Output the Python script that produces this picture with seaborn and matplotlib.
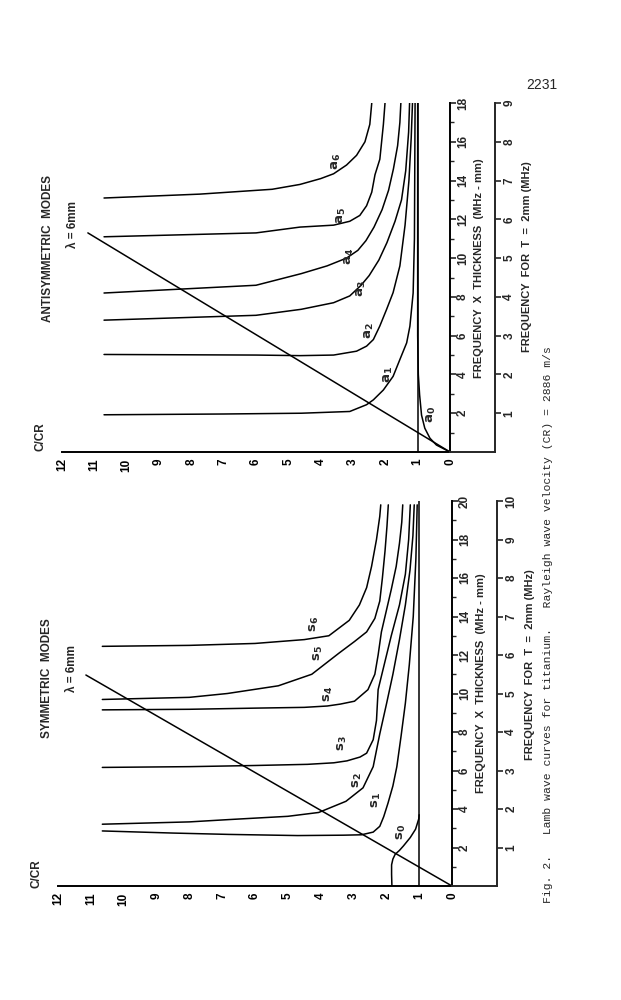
import matplotlib
matplotlib.use("Agg")
import matplotlib.pyplot as plt
import seaborn as sns
import pandas as pd

# ---- data read off the (rotated) figure: C/CR vs frequency x thickness ----
# symmetric modes
s0_c = [1.83, 1.84, 1.84, 1.80, 1.73, 1.60, 1.48, 1.27, 1.11, 1.01, 1.00]
s0_fd = [0.0, 0.6, 1.1, 1.4, 1.65, 1.85, 2.08, 2.52, 2.95, 3.5, 3.7]
s1_c = [10.65, 8.5, 6.8, 4.7, 3.3, 2.76, 2.4, 2.2, 2.08, 1.95, 1.8, 1.68, 1.55, 1.42, 1.3, 1.18, 1.1, 1.06]
s1_fd = [2.86, 2.75, 2.68, 2.62, 2.64, 2.66, 2.8, 3.1, 3.6, 4.3, 5.2, 6.2, 7.8, 9.5, 11.5, 14.0, 17.0, 19.8]
s2_c = [10.65, 8.0, 6.8, 5.0, 4.06, 3.23, 2.71, 2.4, 2.2, 1.99, 1.8, 1.6, 1.42, 1.28, 1.19, 1.15]
s2_fd = [3.21, 3.33, 3.45, 3.62, 3.82, 4.4, 5.1, 6.2, 7.9, 9.5, 11.0, 12.8, 14.6, 16.4, 18.2, 19.8]
s3_c = [10.65, 8.0, 6.0, 4.4, 3.6, 3.2, 2.8, 2.6, 2.4, 2.3, 2.25, 2.05, 1.85, 1.6, 1.42, 1.32, 1.27]
s3_fd = [6.16, 6.2, 6.26, 6.32, 6.4, 6.5, 6.7, 6.9, 7.6, 8.6, 10.2, 11.6, 13.0, 14.6, 16.2, 18.0, 19.8]
s4_c = [10.65, 8.0, 6.0, 4.5, 3.8, 3.4, 2.97, 2.56, 2.35, 2.25, 2.15, 2.0, 1.85, 1.7, 1.6, 1.53, 1.5]
s4_fd = [9.15, 9.18, 9.24, 9.28, 9.35, 9.45, 9.6, 10.2, 11.0, 12.0, 13.2, 14.3, 15.4, 16.6, 17.8, 18.9, 19.8]
s5_c = [10.65, 8.0, 6.84, 5.29, 4.27, 3.44, 2.97, 2.6, 2.35, 2.2, 2.12, 2.04, 1.98, 1.94]
s5_fd = [9.69, 9.8, 10.0, 10.4, 11.0, 12.1, 12.7, 13.2, 13.9, 14.8, 16.0, 17.4, 18.7, 19.8]
s6_c = [10.65, 8.0, 6.0, 4.5, 3.75, 3.13, 2.82, 2.6, 2.45, 2.3, 2.2, 2.17]
s6_fd = [12.45, 12.5, 12.6, 12.8, 13.0, 13.8, 14.6, 15.5, 16.6, 18.0, 19.2, 19.8]
sym_line_c = [0.0, 11.15]
sym_line_fd = [0.0, 10.96]
sym_cr_c = [1.0, 1.0]
sym_cr_fd = [0.0, 20.0]

# antisymmetric modes
a0_c = [0.0, 0.42, 0.62, 0.78, 0.88, 0.94, 0.98, 1.0, 1.0]
a0_fd = [0.0, 0.36, 0.71, 1.23, 1.9, 2.95, 4.0, 6.0, 18.0]
a1_c = [10.7, 7.0, 4.6, 3.1, 2.58, 2.37, 2.06, 1.76, 1.55, 1.34, 1.24, 1.14, 1.1, 1.08]
a1_fd = [1.92, 1.96, 2.0, 2.09, 2.44, 2.69, 3.2, 3.9, 4.77, 5.63, 6.49, 8.2, 11.0, 18.0]
a2_c = [10.7, 6.0, 4.64, 3.6, 2.89, 2.58, 2.37, 2.17, 1.96, 1.76, 1.55, 1.39, 1.27, 1.2, 1.16]
a2_fd = [5.03, 5.0, 4.97, 5.0, 5.2, 5.46, 5.8, 6.5, 7.36, 8.22, 9.6, 11.7, 14.0, 16.2, 18.0]
a3_c = [10.7, 6.0, 4.6, 3.6, 3.1, 2.75, 2.5, 2.2, 1.95, 1.7, 1.5, 1.37, 1.28, 1.25]
a3_fd = [6.8, 7.05, 7.36, 7.7, 8.05, 8.6, 9.1, 9.9, 10.8, 11.9, 13.0, 14.5, 16.5, 18.0]
a4_c = [10.7, 6.0, 4.6, 3.8, 3.2, 2.85, 2.6, 2.35, 2.1, 1.9, 1.75, 1.62, 1.55, 1.52]
a4_fd = [8.2, 8.6, 9.2, 9.6, 10.0, 10.4, 10.9, 11.6, 12.5, 13.5, 14.6, 15.8, 17.0, 18.0]
a5_c = [10.7, 6.0, 4.64, 3.6, 3.1, 2.79, 2.58, 2.42, 2.32, 2.17, 2.06, 2.01]
a5_fd = [11.1, 11.3, 11.6, 11.7, 11.9, 12.2, 12.7, 13.4, 14.3, 15.1, 16.9, 18.0]
a6_c = [10.7, 7.74, 5.5, 4.64, 4.0, 3.6, 3.2, 2.89, 2.63, 2.48, 2.42]
a6_fd = [13.1, 13.3, 13.55, 13.8, 14.1, 14.35, 14.8, 15.3, 16.0, 16.9, 18.0]
anti_line_c = [0.0, 11.2]
anti_line_fd = [0.0, 11.3]
anti_cr_c = [1.0, 1.0]
anti_cr_fd = [0.0, 18.0]

sym_labels = ['s0', 's1', 's2', 's3', 's4', 's5', 's6']
sym_label_c = [1.53, 2.3, 2.87, 3.33, 3.75, 4.06, 4.2]
sym_label_fd = [2.8, 4.45, 5.5, 7.4, 10.0, 12.1, 13.6]
anti_labels = ['a0', 'a1', 'a2', 'a3', 'a4', 'a5', 'a6']
anti_label_c = [0.57, 1.91, 2.48, 2.73, 3.1, 3.35, 3.5]
anti_label_fd = [1.95, 4.0, 6.25, 8.4, 10.1, 12.2, 15.0]

caption = ("Fig. 2.   Lamb wave curves for titanium.   "
           "Rayleigh wave velocity (CR) = 2886 m/s")


def to_frame(curves):
    rows = []
    for name, (cs, fds) in curves.items():
        for i, (c, fd) in enumerate(zip(cs, fds)):
            rows.append({'mode': name, 'order': i, 'c': c, 'fd': fd})
    return pd.DataFrame(rows)


sns.set_style("white")
plt.rcParams['font.family'] = ['Liberation Sans', 'DejaVu Sans']
plt.rcParams['mathtext.fontset'] = 'dejavusans'

fig = plt.figure(figsize=(6.21, 10), dpi=100)


def style_ticks(ax):
    for lbl in ax.get_xticklabels():
        lbl.set_fontweight('bold')
    for lbl in ax.get_yticklabels():
        lbl.set_fontweight('bold')
        lbl.set_verticalalignment('center')


def panel(rect, rect2, curves, fd_max, t_max, labels, lab_c, lab_fd):
    ax = fig.add_axes(rect)
    df = to_frame(curves)
    sns.lineplot(data=df, x='c', y='fd', units='mode', estimator=None,
                 sort=False, color='black', linewidth=1.1, ax=ax, legend=False)
    ax.set_xlim(12, 0)
    ax.set_ylim(0, fd_max)
    ax.set_xlabel('')
    ax.set_ylabel('')
    ax.patch.set_visible(False)
    for side in ['left', 'top']:
        ax.spines[side].set_visible(False)
    for side in ['bottom', 'right']:
        ax.spines[side].set_linewidth(1.4)
        ax.spines[side].set_color('black')
    ax.yaxis.tick_right()
    ax.set_xticks(range(0, 13))
    ax.set_yticks(range(2, fd_max + 1, 2))
    ax.set_yticks(range(1, fd_max, 2), minor=True)
    ax.tick_params(axis='x', direction='inout', length=5, width=1.2,
                   labelrotation=90, pad=2, labelsize=8.5, colors='black')
    ax.tick_params(axis='y', which='major', direction='out', length=4,
                   width=1.2, labelrotation=90, pad=1, labelsize=8.5)
    ax.tick_params(axis='y', which='minor', direction='out', length=3, width=1.0)
    style_ticks(ax)
    for name, c, fd in zip(labels, lab_c, lab_fd):
        ax.text(c, fd, r'$\mathbf{%s_%s}$' % (name[0], name[1]), rotation=90,
                ha='center', va='center', fontsize=9.5)

    ax2 = fig.add_axes(rect2)
    ax2.set_xlim(0, 1)
    ax2.set_ylim(0, t_max)
    ax2.patch.set_visible(False)
    for side in ['left', 'top']:
        ax2.spines[side].set_visible(False)
    for side in ['bottom', 'right']:
        ax2.spines[side].set_linewidth(1.4)
    ax2.yaxis.tick_right()
    ax2.set_xticks([])
    ax2.set_yticks(range(1, t_max + 1))
    ax2.tick_params(axis='y', direction='out', length=4, width=1.2,
                    labelrotation=90, pad=2, labelsize=8.5)
    style_ticks(ax2)
    return ax


W, H = 621.0, 1000.0


def rect_px(x0, x1, y_bottom, y_top):
    return [x0 / W, 1 - y_bottom / H, (x1 - x0) / W, (y_bottom - y_top) / H]


sym_curves = {'s0': (s0_c, s0_fd), 's1': (s1_c, s1_fd), 's2': (s2_c, s2_fd),
              's3': (s3_c, s3_fd), 's4': (s4_c, s4_fd), 's5': (s5_c, s5_fd),
              's6': (s6_c, s6_fd), 'lam': (sym_line_c, sym_line_fd),
              'cr': (sym_cr_c, sym_cr_fd)}
anti_curves = {'a0': (a0_c, a0_fd), 'a1': (a1_c, a1_fd), 'a2': (a2_c, a2_fd),
               'a3': (a3_c, a3_fd), 'a4': (a4_c, a4_fd), 'a5': (a5_c, a5_fd),
               'a6': (a6_c, a6_fd), 'lam': (anti_line_c, anti_line_fd),
               'cr': (anti_cr_c, anti_cr_fd)}

panel(rect_px(58, 452, 886, 501), rect_px(452, 497, 886, 501), sym_curves,
      20, 10, sym_labels, sym_label_c, sym_label_fd)
panel(rect_px(62, 450, 452, 103), rect_px(450, 495, 452, 103), anti_curves,
      18, 9, anti_labels, anti_label_c, anti_label_fd)


def ftext(x, y, s, size=8, weight='bold', **kw):
    fig.text(x / W, 1 - y / H, s, rotation=kw.pop('rotation', 90),
             ha=kw.pop('ha', 'center'), va=kw.pop('va', 'center'),
             fontsize=size, fontweight=weight, **kw)


ftext(47, 678, 'SYMMETRIC  MODES', 8.5)
ftext(72, 668, 'λ = 6mm', 8.5)
ftext(37, 874, 'C/CR', 8.5)
ftext(481, 683, 'FREQUENCY  X  THICKNESS  (MHz - mm)', 8)
ftext(530, 665, 'FREQUENCY  FOR  T  =  2mm (MHz)', 8)

ftext(48, 249, 'ANTISYMMETRIC  MODES', 8.5)
ftext(73, 225, 'λ = 6mm', 8.5)
ftext(40, 437, 'C/CR', 8.5)
ftext(479, 268, 'FREQUENCY  X  THICKNESS  (MHz - mm)', 8)
ftext(527, 257, 'FREQUENCY  FOR  T  =  2mm (MHz)', 8)

ftext(548, 903, caption, 8.2, weight='normal', va='bottom',
      family=['Liberation Mono', 'DejaVu Sans Mono'])
ftext(542, 85, '2231', 10, weight='normal', rotation=0)

fig.savefig('out.png', dpi=100, facecolor='white')
